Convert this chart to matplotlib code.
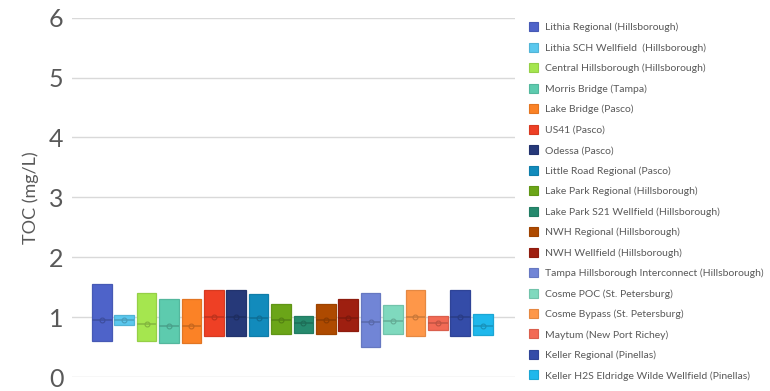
import numpy as np
import matplotlib
matplotlib.use('Agg')
from matplotlib import pyplot as plt
from matplotlib.patches import Patch
from matplotlib import colors as mcolors

# data (TOC, mg/L)
sites = [
    'Lithia Regional (Hillsborough)',
    'Lithia SCH Wellfield  (Hillsborough)',
    'Central Hillsborough (Hillsborough)',
    'Morris Bridge (Tampa)',
    'Lake Bridge (Pasco)',
    'US41 (Pasco)',
    'Odessa (Pasco)',
    'Little Road Regional (Pasco)',
    'Lake Park Regional (Hillsborough)',
    'Lake Park S21 Wellfield (Hillsborough)',
    'NWH Regional (Hillsborough)',
    'NWH Wellfield (Hillsborough)',
    'Tampa Hillsborough Interconnect (Hillsborough)',
    'Cosme POC (St. Petersburg)',
    'Cosme Bypass (St. Petersburg)',
    'Maytum (New Port Richey)',
    'Keller Regional (Pinellas)',
    'Keller H2S Eldridge Wilde Wellfield (Pinellas)',
]
q3 = [1.55, 1.04, 1.40, 1.31, 1.31, 1.45, 1.45, 1.38, 1.22,
      1.02, 1.22, 1.31, 1.40, 1.21, 1.45, 1.02, 1.45, 1.05]
q1 = [0.60, 0.87, 0.60, 0.56, 0.56, 0.68, 0.68, 0.69, 0.72,
      0.73, 0.72, 0.77, 0.50, 0.72, 0.68, 0.79, 0.68, 0.70]
median = [0.96, 0.96, 0.89, 0.85, 0.85, 1.01, 1.01, 0.99, 0.95,
          0.91, 0.95, 0.99, 0.92, 0.93, 1.01, 0.91, 1.00, 0.86]
mean = [0.96, 0.96, 0.89, 0.85, 0.85, 1.01, 1.01, 0.99, 0.95,
        0.91, 0.95, 0.99, 0.92, 0.93, 1.01, 0.91, 1.00, 0.86]
palette = ['#4E63C9', '#5BC8EE', '#A5E64F', '#5DCBAE', '#FB8226', '#EE4025',
           '#263979', '#128BBC', '#6BA518', '#268A6E', '#AE4A00', '#9E1F10',
           '#7185D6', '#7FD9BE', '#FE9749', '#F26A55', '#344CA8', '#1FB8EC']
yticks = [0, 1, 2, 3, 4, 5, 6]

plt.rcParams['font.family'] = ['Lato', 'DejaVu Sans']


def shade(c, f):
    r, g, b = mcolors.to_rgb(c)
    return (r * f, g * f, b * f)


fig = plt.figure(figsize=(7.7, 3.91), dpi=100)
ax = fig.add_axes([0.0935, 0.0358, 0.669 - 0.0935, 0.9547 - 0.0358])

stats = []
for i in range(len(sites)):
    stats.append({'med': median[i], 'q1': q1[i], 'q3': q3[i],
                  'whislo': q1[i], 'whishi': q3[i], 'mean': mean[i],
                  'fliers': []})

pos = np.arange(len(sites))
bp = ax.bxp(stats, positions=pos, widths=0.88, patch_artist=True,
            showmeans=True, showcaps=False, showfliers=False,
            manage_ticks=False, zorder=3)

for i, c in enumerate(palette):
    bp['boxes'][i].set_facecolor(c)
    bp['boxes'][i].set_edgecolor(shade(c, 0.9))
    bp['boxes'][i].set_linewidth(0.9)
    bp['medians'][i].set_color(shade(c, 0.8))
    bp['medians'][i].set_linewidth(1.1)
    bp['means'][i].set_marker('o')
    bp['means'][i].set_markersize(3.5)
    bp['means'][i].set_markerfacecolor('none')
    bp['means'][i].set_markeredgecolor(shade(c, 0.78))
    bp['means'][i].set_markeredgewidth(0.8)
for w in bp['whiskers']:
    w.set_visible(False)

ax.set_xlim(-1.33, 18.45)
ax.set_ylim(0, 6)
ax.set_yticks(yticks)
ax.yaxis.grid(True, color='#D9D9D9', linewidth=1.0, zorder=0)
ax.set_axisbelow(True)
for s in ax.spines.values():
    s.set_visible(False)
ax.tick_params(axis='y', length=0, labelsize=18, labelcolor='#595959', pad=6)
ax.tick_params(axis='x', length=0, labelbottom=False)
ax.set_ylabel('TOC (mg/L)', fontsize=13, color='#595959', labelpad=7)

handles = [Patch(facecolor=c, edgecolor=shade(c, 0.9), linewidth=0.8) for c in palette]
fig.legend(handles, sites, loc='upper left', bbox_to_anchor=(0.681, 0.954),
           frameon=False, fontsize=7.5, labelcolor='#595959',
           handlelength=0.95, handleheight=0.95, handletextpad=0.6,
           labelspacing=1.0, borderaxespad=0)

fig.savefig('out.png', dpi=100)
